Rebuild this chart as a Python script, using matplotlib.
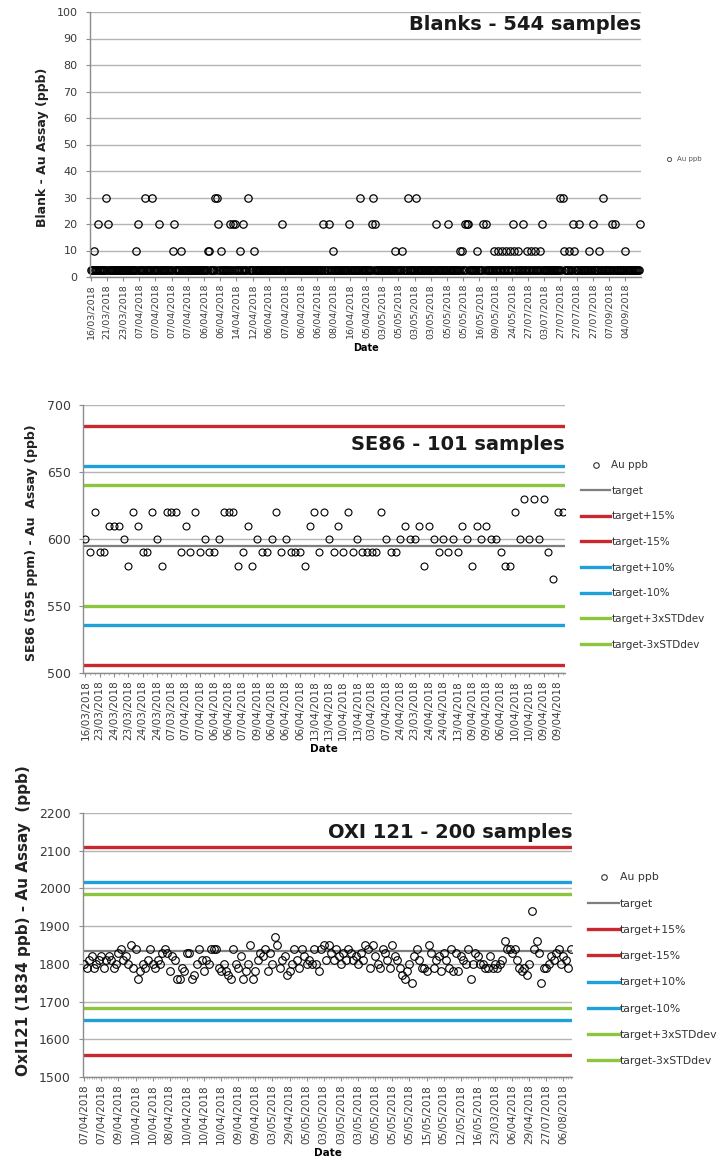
import matplotlib
matplotlib.use("Agg")
import matplotlib.pyplot as plt
from matplotlib.lines import Line2D
import numpy as np

plt.rcParams['font.family'] = ['DejaVu Sans']

# ---------------- Blanks ----------------
blank_n = 544
blank_base = 2.5  # below detection
blank_10 = [3, 45, 81, 89, 116, 117, 129, 148, 161, 235, 239, 279, 301, 308, 365, 367,
            382, 398, 402, 406, 410, 414, 418, 422, 431, 435, 439, 444, 467, 472, 477,
            482, 492, 502, 506, 528]
blank_20 = [7, 17, 47, 68, 82, 126, 138, 141, 143, 151, 189, 230, 235, 255, 278, 281,
            341, 353, 370, 372, 373, 388, 390, 417, 427, 446, 476, 482, 496, 515, 518, 543]
blank_30 = [15, 54, 61, 123, 125, 155, 266, 279, 313, 321, 464, 466, 506]
blank_dates = ["16/03/2018", "21/03/2018", "23/03/2018", "07/04/2018", "07/04/2018",
               "07/04/2018", "07/04/2018", "06/04/2018", "06/04/2018", "14/04/2018",
               "12/04/2018", "06/04/2018", "07/04/2018", "06/04/2018", "06/04/2018",
               "08/04/2018", "16/04/2018", "05/04/2018", "03/05/2018", "05/05/2018",
               "03/05/2018", "03/05/2018", "05/05/2018", "05/05/2018", "16/05/2018",
               "09/05/2018", "24/05/2018", "27/07/2018", "03/07/2018", "27/07/2018",
               "27/07/2018", "27/07/2018", "07/09/2018", "04/09/2018"]

# ---------------- SE86 ----------------
se86 = [600, 590, 620, 590, 590, 610, 610, 610, 600, 580,
        620, 610, 590, 590, 620, 600, 580, 620, 620, 620,
        590, 610, 590, 620, 590, 600, 590, 590, 600, 620,
        620, 620, 580, 590, 610, 580, 600, 590, 590, 600,
        620, 590, 600, 590, 590, 590, 580, 610, 620, 590,
        620, 600, 590, 610, 590, 620, 590, 600, 590, 590,
        590, 590, 620, 600, 590, 590, 600, 610, 600, 600,
        610, 580, 610, 600, 590, 600, 590, 600, 590, 610,
        600, 580, 610, 600, 610, 600, 600, 590, 580, 580,
        620, 600, 630, 600, 630, 600, 630, 590, 570, 620,
        620]
se86_dates = ["16/03/2018", "23/03/2018", "24/03/2018", "23/03/2018", "24/03/2018",
              "24/03/2018", "07/03/2018", "07/04/2018", "07/04/2018", "06/04/2018",
              "06/04/2018", "07/04/2018", "09/04/2018", "06/04/2018", "06/04/2018",
              "06/04/2018", "13/04/2018", "13/04/2018", "10/04/2018", "13/04/2018",
              "03/04/2018", "07/04/2018", "24/04/2018", "23/03/2018", "24/04/2018",
              "24/04/2018", "13/04/2018", "09/04/2018", "09/04/2018", "06/04/2018",
              "10/04/2018", "10/04/2018", "09/04/2018", "09/04/2018"]
se86_target = 595
se86_3sd = 45

# ---------------- OXI121 ----------------
oxi = [1800, 1790, 1810, 1820, 1790, 1800, 1810, 1820, 1790, 1810,
       1820, 1810, 1790, 1800, 1830, 1840, 1810, 1820, 1800, 1850,
       1790, 1840, 1760, 1780, 1800, 1790, 1810, 1840, 1800, 1790,
       1810, 1800, 1830, 1840, 1830, 1780, 1820, 1810, 1760, 1760,
       1790, 1780, 1830, 1830, 1760, 1770, 1800, 1840, 1810, 1780,
       1810, 1800, 1840, 1840, 1840, 1790, 1780, 1800, 1780, 1770,
       1760, 1840, 1800, 1790, 1820, 1760, 1780, 1800, 1850, 1760,
       1780, 1810, 1830, 1820, 1840, 1780, 1830, 1800, 1870, 1850,
       1790, 1810, 1820, 1770, 1780, 1800, 1840, 1810, 1790, 1840,
       1820, 1800, 1810, 1800, 1840, 1800, 1780, 1840, 1850, 1810,
       1850, 1830, 1810, 1840, 1820, 1800, 1830, 1810, 1840, 1830,
       1810, 1820, 1800,
       1830, 1810, 1850, 1840, 1790, 1850, 1820, 1800, 1790, 1840,
       1830, 1810, 1790, 1850, 1820, 1810, 1790, 1770, 1760, 1780,
       1800, 1750, 1820, 1840, 1810, 1790, 1790, 1780, 1850, 1830,
       1790, 1810, 1820, 1780, 1830, 1810, 1790, 1840, 1780, 1830,
       1780, 1820, 1810, 1800, 1840, 1760, 1800, 1830, 1820, 1800,
       1800, 1790, 1790, 1820, 1790, 1800, 1790, 1800, 1810, 1860,
       1840, 1840, 1830, 1840, 1810, 1790, 1780, 1790, 1770, 1800,
       1940, 1840, 1860, 1830, 1750, 1790, 1790, 1800, 1820, 1810,
       1830, 1840, 1800, 1820, 1810, 1790, 1840]
oxi_dates = ["07/04/2018", "07/04/2018", "09/04/2018", "10/04/2018", "10/04/2018",
             "08/04/2018", "10/04/2018", "10/04/2018", "10/04/2018", "09/04/2018",
             "09/04/2018", "03/05/2018", "29/04/2018", "05/05/2018", "03/05/2018",
             "03/05/2018", "03/05/2018", "05/05/2018", "05/05/2018", "05/05/2018",
             "15/05/2018", "05/05/2018", "12/05/2018", "16/05/2018", "23/03/2018",
             "06/04/2018", "29/04/2018", "27/07/2018", "06/08/2018"]
oxi_target = 1834
oxi_3sd = 150

RED = "#c8282e"
BLUE = "#1ea0d8"
GREEN = "#8cc63e"
GREY = "#7f7f7f"
GRID = "#b4b4b4"
TXT = "#3a3a3a"

W, H = 719, 1166
fig = plt.figure(figsize=(W / 100, H / 100), dpi=100)


def px(x, y):
    return x / W, 1 - y / H


def style_axes(ax, n, dates, step, ylim, yticks, xfs, yfs):
    ax.set_xlim(-0.5, n - 0.5)
    ax.set_ylim(*ylim)
    ax.set_yticks(yticks)
    ax.yaxis.grid(True, color=GRID, lw=1.0)
    ax.set_axisbelow(True)
    for s in ["top", "right"]:
        ax.spines[s].set_visible(False)
    for s in ["left", "bottom"]:
        ax.spines[s].set_color("#8c8c8c")
        ax.spines[s].set_linewidth(1.0)
    pos = np.arange(0, n, step)[:len(dates)]
    ax.set_xticks(pos)
    ax.set_xticklabels(dates[:len(pos)], rotation=90, fontsize=xfs, color=TXT)
    ax.set_xticks(np.arange(n), minor=True)
    ax.tick_params(axis="x", which="major", length=3, color="#8c8c8c", pad=2)
    ax.tick_params(axis="x", which="minor", length=1.5, color="#a0a0a0", width=0.5)
    ax.tick_params(axis="y", length=3, color="#8c8c8c", labelsize=yfs,
                   labelcolor=TXT, pad=6)


# ---------- top chart ----------
ax1 = fig.add_axes([90 / W, 1 - 277 / H, 551 / W, 265 / H])
blank_vals = np.full(blank_n, blank_base)
for v, idx in [(10, blank_10), (20, blank_20), (30, blank_30)]:
    blank_vals[idx] = v
x1 = np.arange(blank_n)
ax1.plot(x1, blank_vals, "o", ms=5.3, mfc="none", mec="black", mew=0.9, clip_on=False)
style_axes(ax1, blank_n, blank_dates, 16, (0, 100), np.arange(0, 101, 10), 6.8, 8)
ax1.tick_params(axis="x", which="minor", length=0)
ax1.set_xlabel("Date", fontsize=7, fontweight="bold", labelpad=3)
fig.text(*px(43, 147), "Blank - Au Assay (ppb)", rotation=90, ha="center", va="center",
         fontsize=9, fontweight="bold", color="#222222")
fig.text(*px(641, 25), "Blanks - 544 samples", ha="right", va="center",
         fontsize=14, fontweight="bold", color="#1a1a1a")
fig.legend(handles=[Line2D([], [], ls="none", marker="o", ms=3, mfc="none", mec="#555555",
                           mew=0.7, label="Au ppb")],
           loc="center left", bbox_to_anchor=px(659, 159), frameon=False,
           fontsize=5, handletextpad=0.1, borderpad=0, labelcolor="#555555")


def limits_chart(ax, values, target, sd3, dates, step, ylim, yticks, title, title_xy,
                 ylabel, ylabel_xy, ylabel_fs, xfs, legend_xy, legend_fs, ms):
    n = len(values)
    x = np.arange(n)
    lines = [
        ("target", target, GREY),
        ("target+15%", target * 1.15, RED),
        ("target-15%", target * 0.85, RED),
        ("target+10%", target * 1.10, BLUE),
        ("target-10%", target * 0.90, BLUE),
        ("target+3xSTDdev", target + sd3, GREEN),
        ("target-3xSTDdev", target - sd3, GREEN),
    ]
    handles = [Line2D([], [], ls="none", marker="o", ms=4, mfc="none", mec="#333333",
                      mew=0.8, label="Au ppb")]
    for lab, yv, col in lines:
        lw = 1.6 if lab == "target" else 2.4
        ax.axhline(yv, color=col, lw=lw, zorder=2)
        handles.append(Line2D([], [], color=col, lw=lw, label=lab))
    ax.plot(x, values, "o", ms=ms, mfc="none", mec="black", mew=0.8, zorder=3)
    style_axes(ax, n, dates, step, ylim, yticks, xfs, 9)
    ax.set_xlabel("Date", fontsize=7.5, fontweight="bold", labelpad=3)
    fig.text(*px(*ylabel_xy), ylabel, rotation=90, ha="center", va="center",
             fontsize=ylabel_fs, fontweight="bold", color="#222222")
    fig.text(*px(*title_xy), title, ha="right", va="center", fontsize=14,
             fontweight="bold", color="#1a1a1a", zorder=4)
    fig.legend(handles=handles, loc="upper left", bbox_to_anchor=px(*legend_xy),
               frameon=False, fontsize=legend_fs, handlelength=2.8, handletextpad=0.1,
               labelspacing=1.5, borderpad=0, labelcolor="#333333")


ax2 = fig.add_axes([83 / W, 1 - 673 / H, 482 / W, 268 / H])
limits_chart(ax2, se86, se86_target, se86_3sd, se86_dates, 3, (500, 700),
             np.arange(500, 701, 50), "SE86 - 101 samples", (565, 445),
             "SE86 (595 ppm) - Au  Assay (ppb)", (32, 543), 9, 7.5, (576, 455), 7.5, 5)

ax3 = fig.add_axes([83 / W, 1 - 1077 / H, 489 / W, 264 / H])
limits_chart(ax3, oxi, oxi_target, oxi_3sd, oxi_dates, 7, (1500, 2200),
             np.arange(1500, 2201, 100), "OXI 121 - 200 samples", (572, 832),
             "OxI121 (1834 ppb) - Au Assay  (ppb)", (24, 921), 11, 7.5, (583, 867), 7.8,
             5.5)

fig.savefig("out.png", dpi=100)
